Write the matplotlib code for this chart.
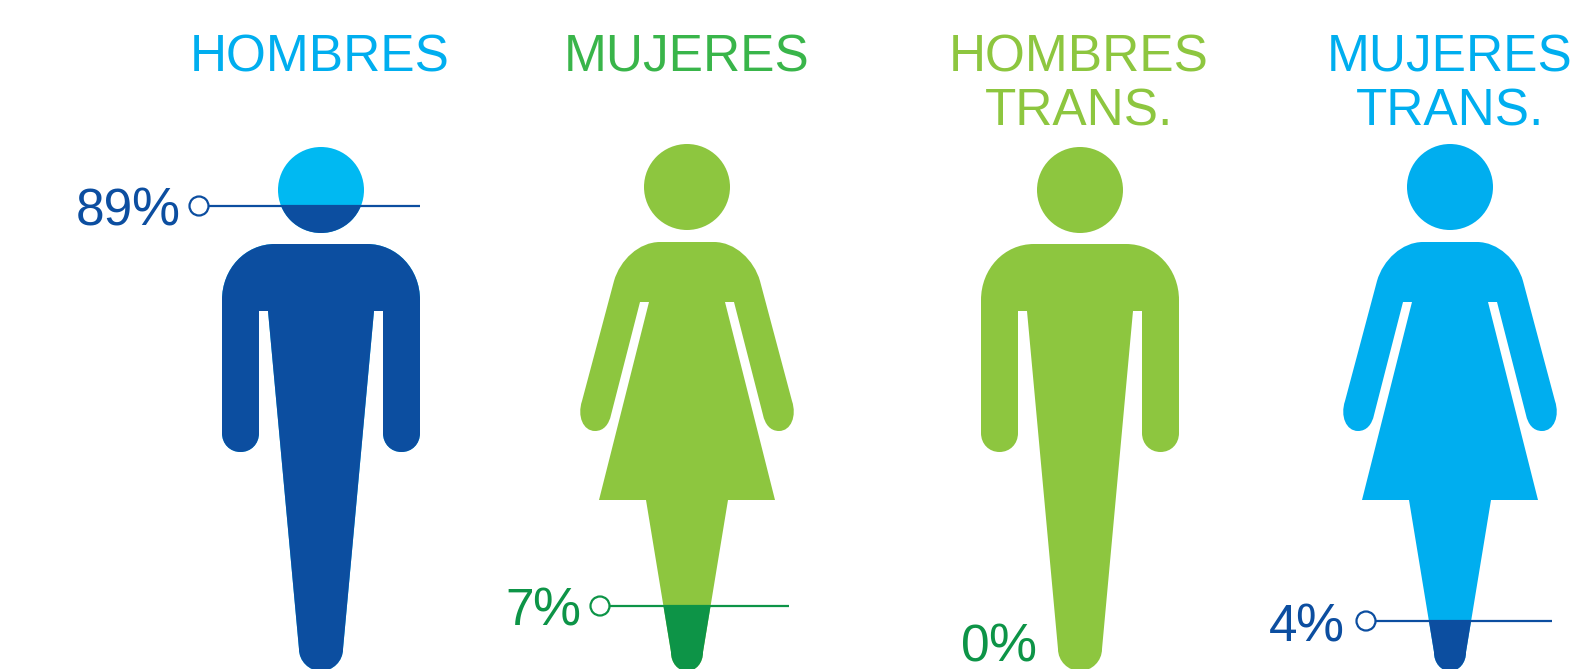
import matplotlib
matplotlib.use('Agg')
import matplotlib.pyplot as plt
from matplotlib.patches import Circle, PathPatch, Rectangle
from matplotlib.path import Path

# Datos
titles = [['HOMBRES'], ['MUJERES'], ['HOMBRES', 'TRANS.'], ['MUJERES', 'TRANS.']]
percents = [89, 7, 0, 4]
figure_kinds = ['man', 'woman', 'man', 'woman']

# Colores y posiciones (pixeles de la imagen)
title_colors = ['#00AEEF', '#39B54A', '#8DC63F', '#00AEEF']
upper_colors = ['#00B9F2', '#8DC63F', '#8DC63F', '#00AEEF']
lower_colors = ['#0C4EA0', '#0D9447', '#8DC63F', '#0C4EA0']
label_colors = ['#0C4EA0', '#0D9447', '#0D9447', '#0C4EA0']
centers = [321, 687, 1080, 1450]
title_x = [320, 687, 1079, 1450]
levels = [206, 606, None, 621]
label_right = [179, 580, 1036, 1343]
label_base = [226, 625, 662, 641]
marker_x = [199, 600, None, 1366]
line_end = [420, 789, None, 1552]
head_y = {'man': 190, 'woman': 187}

M, L, C = Path.MOVETO, Path.LINETO, Path.CURVE4

MAN_HALF = [
    (L, 46, 244), (C, 76, 244), (C, 99, 269), (C, 99, 300),
    (L, 99, 433), (C, 99, 444), (C, 91, 452), (C, 80.5, 452),
    (C, 70, 452), (C, 62, 444), (C, 62, 433),
    (L, 62, 311), (L, 53, 311), (L, 22, 649),
    (C, 22, 661), (C, 12, 671), (C, 0, 671),
]
WOMAN_HALF = [
    (L, 27, 242), (C, 48, 242), (C, 67, 260), (C, 73, 281),
    (L, 105, 401), (C, 110, 416), (C, 104, 431), (C, 92, 431),
    (C, 83, 431), (C, 78, 424), (C, 76, 415),
    (L, 47, 302), (L, 38, 302), (L, 88, 500), (L, 41, 500), (L, 16, 652),
    (C, 16, 663), (C, 9, 671), (C, 0, 671),
]


def body_path(kind, cx):
    """Silueta completa a partir de la mitad derecha."""
    half = MAN_HALF if kind == 'man' else WOMAN_HALF
    top_y = half[0][2]
    verts = [(cx, top_y)] + [(cx + dx, y) for _, dx, y in half]
    codes = [M] + [c for c, _, _ in half]
    # vuelta por el lado izquierdo, en orden inverso
    right = [(0, top_y)] + [(dx, y) for _, dx, y in half]
    for i in range(len(half) - 1, -1, -1):
        verts.append((cx - right[i][0], right[i][1]))
        codes.append(half[i][0])
    return Path(verts, codes)


def draw_figure(ax, kind, cx, color, clip=None):
    body = PathPatch(body_path(kind, cx), facecolor=color, edgecolor='none')
    head = Circle((cx, head_y[kind]), 43, facecolor=color, edgecolor='none')
    for part in (body, head):
        ax.add_patch(part)
        if clip is not None:
            part.set_clip_path(clip)


def draw_label(ax, value, right, base, color):
    """El signo % va algo mayor que las cifras, como en el original."""
    sign = ax.text(right, base, '%', color=color, fontsize=39, family='Liberation Sans',
                   ha='right', va='baseline', zorder=5)
    box = sign.get_window_extent(fig.canvas.get_renderer())
    left = ax.transData.inverted().transform((box.x0, box.y0))[0]
    ax.text(left + 2, base, str(value), color=color, fontsize=37, family='Liberation Sans',
            ha='right', va='baseline', zorder=5)


fig = plt.figure(figsize=(15.74, 6.69), dpi=100)
ax = fig.add_axes([0, 0, 1, 1])
ax.set_xlim(0, 1574)
ax.set_ylim(669, 0)
ax.axis('off')

for i, lines in enumerate(titles):
    for j, line in enumerate(lines):
        ax.text(title_x[i], 72 + 54 * j, line, color=title_colors[i], fontsize=37,
                family='Liberation Sans', ha='center', va='baseline')

    draw_figure(ax, figure_kinds[i], centers[i], upper_colors[i])
    if levels[i] is not None:
        clip = Rectangle((0, levels[i]), 1574, 669 - levels[i], transform=ax.transData)
        draw_figure(ax, figure_kinds[i], centers[i], lower_colors[i], clip)
        ax.plot([marker_x[i], line_end[i]], [levels[i], levels[i]],
                color=lower_colors[i], lw=1.6, solid_capstyle='butt', zorder=3)
        ax.add_patch(Circle((marker_x[i], levels[i]), 9.5, facecolor='white',
                            edgecolor=lower_colors[i], lw=1.6, zorder=4))

    draw_label(ax, percents[i], label_right[i], label_base[i], label_colors[i])

fig.savefig('out.png', dpi=100)
